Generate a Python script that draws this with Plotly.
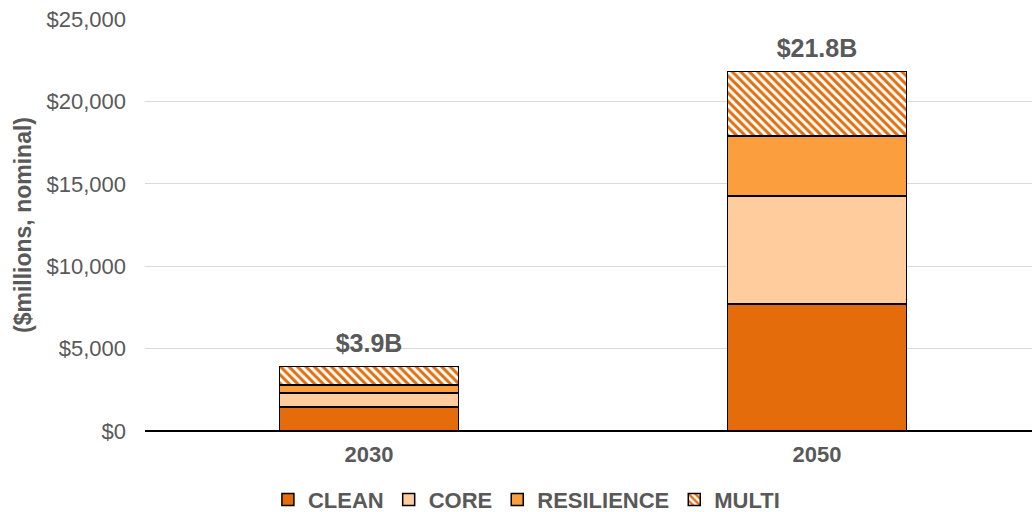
import plotly.graph_objects as go

years = ["2030", "2050"]
clean = [1450, 7700]
core = [850, 6550]
resilience = [500, 3650]
multi = [1100, 3900]
total_labels = ["$3.9B", "$21.8B"]
y_ticks = [0, 5000, 10000, 15000, 20000, 25000]
y_tick_text = ["$0", "$5,000", "$10,000", "$15,000", "$20,000", "$25,000"]

FONT = "Liberation Sans, Arial, sans-serif"
GRAY = "#595959"

fig = go.Figure()
line = dict(color="black", width=1.5)
fig.add_bar(name="<b>CLEAN</b>", x=years, y=clean, marker=dict(color="#E46C0A", line=line))
fig.add_bar(name="<b>CORE</b>", x=years, y=core, marker=dict(color="#FFCC9E", line=line))
fig.add_bar(name="<b>RESILIENCE</b>", x=years, y=resilience, marker=dict(color="#FA9E3E", line=line))
fig.add_bar(name="<b>MULTI</b>", x=years, y=multi,
            marker=dict(color="white", line=line,
                        pattern=dict(shape="\\", fgcolor="#E46C0A", bgcolor="white",
                                     size=6, solidity=0.5, fillmode="replace")))

totals = [a + b + c + d for a, b, c, d in zip(clean, core, resilience, multi)]
fig.add_scatter(x=years, y=totals, mode="markers+text",
                text=[f"<b>{t}</b>" for t in total_labels],
                marker=dict(size=12, color="rgba(0,0,0,0)"),
                textposition="top center", showlegend=False, hoverinfo="skip",
                textfont=dict(family=FONT, size=25, color=GRAY), cliponaxis=False)

fig.update_layout(
    barmode="stack",
    bargap=0.6,
    width=1032, height=512,
    margin=dict(l=145, r=0, t=19, b=81, autoexpand=False),
    plot_bgcolor="white", paper_bgcolor="white",
    font=dict(family=FONT, color=GRAY, size=22),
    showlegend=True,
    legend=dict(orientation="h", x=0.43, xanchor="center", y=-0.167, yanchor="middle",
                traceorder="normal", font=dict(family=FONT, size=22, color=GRAY),
                itemwidth=30, tracegroupgap=0),
    xaxis=dict(type="category", range=[-0.5, 1.48],
               tickfont=dict(family=FONT, size=22, color=GRAY),
               ticktext=[f"<b>{y}</b>" for y in years], tickvals=years,
               showline=False, ticks="", ticklabelstandoff=8, automargin=False),
    yaxis=dict(range=[0, 25000], tickvals=y_ticks, ticktext=y_tick_text,
               gridcolor="#D9D9D9", gridwidth=1,
               zeroline=True, zerolinecolor="black", zerolinewidth=1.5,
               tickfont=dict(family=FONT, size=22, color=GRAY),
               ticklabelstandoff=18, automargin=False,
               title=dict(text="<b>($millions, nominal)</b>", standoff=8,
                          font=dict(family=FONT, size=23, color=GRAY))),
)

fig.write_html("out.html")
